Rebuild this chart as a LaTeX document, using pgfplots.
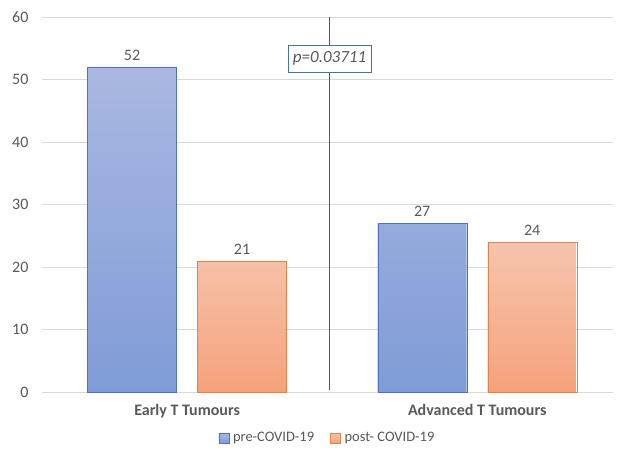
\documentclass[border=0pt]{standalone}
\usepackage{pgfplots}
\pgfplotsset{compat=1.18}
\usepackage{fontspec}
\setmainfont{Carlito}
\usetikzlibrary{calc}

\definecolor{txtgray}{HTML}{595959}
\definecolor{gridgray}{HTML}{D9D9D9}
\definecolor{blueTop}{HTML}{AAB8E2}
\definecolor{blueBot}{HTML}{7F9CD7}
\definecolor{blueEdge}{HTML}{4F72BF}
\definecolor{orTop}{HTML}{F7C4AE}
\definecolor{orBot}{HTML}{F5A27B}
\definecolor{orEdge}{HTML}{E08449}
\definecolor{divline}{HTML}{2A5CA8}
\definecolor{boxedge}{HTML}{41789A}

\begin{document}
\begin{tikzpicture}
\begin{axis}[
  name=ax,
  scale only axis,
  width=571pt, height=375pt,
  ybar=21pt, bar width=89pt,
  xmin=-0.5, xmax=1.468,
  ymin=0, ymax=60,
  ytick={0,10,...,60},
  xtick={0,1},
  xticklabels={Early T Tumours, Advanced T Tumours},
  ymajorgrids,
  grid style={gridgray, line width=0.8pt},
  axis line style={draw=none},
  major tick length=0pt,
  /pgf/number format/assume math mode=true,
  yticklabel style={text=txtgray, font=\fontsize{16}{18}\selectfont, xshift=-10pt},
  xticklabel style={text=txtgray, font=\bfseries\fontsize{16}{18}\selectfont, yshift=-9pt},
  nodes near coords,
  every node near coord/.append style={text=txtgray, font=\fontsize{16}{18}\selectfont, yshift=3pt},
  legend columns=2,
  legend style={draw=none, at={(0.5,-0.1227)}, anchor=center,
    font=\fontsize{14.5}{16}\selectfont, text=txtgray,
    /tikz/every odd column/.append style={column sep=2pt},
    /tikz/every even column/.append style={column sep=14pt}},
  legend image code/.code={\draw[#1] (0pt,-5pt) rectangle (10pt,5pt);},
]
\addplot[draw=blueEdge, top color=blueTop, bottom color=blueBot] coordinates {(0,52) (1,27)};
\addlegendentry{pre-COVID-19}
\addplot[draw=orEdge, top color=orTop, bottom color=orBot] coordinates {(0,21) (1,24)};
\addlegendentry{post- COVID-19}
\draw[divline, line width=1.2pt] (axis cs:0.491,0.3) -- (axis cs:0.491,60);
\node[draw=boxedge, fill=white, text=txtgray, inner xsep=5pt, minimum height=27pt,
  font=\itshape\fontsize{17}{19}\selectfont] at (axis cs:0.491,53.4) {p=0.03711};
\end{axis}
\pgfresetboundingbox
\path ($(ax.south west)+(-42pt,-61pt)$) rectangle ($(ax.north east)+(4pt,17pt)$);
\end{tikzpicture}
\end{document}
